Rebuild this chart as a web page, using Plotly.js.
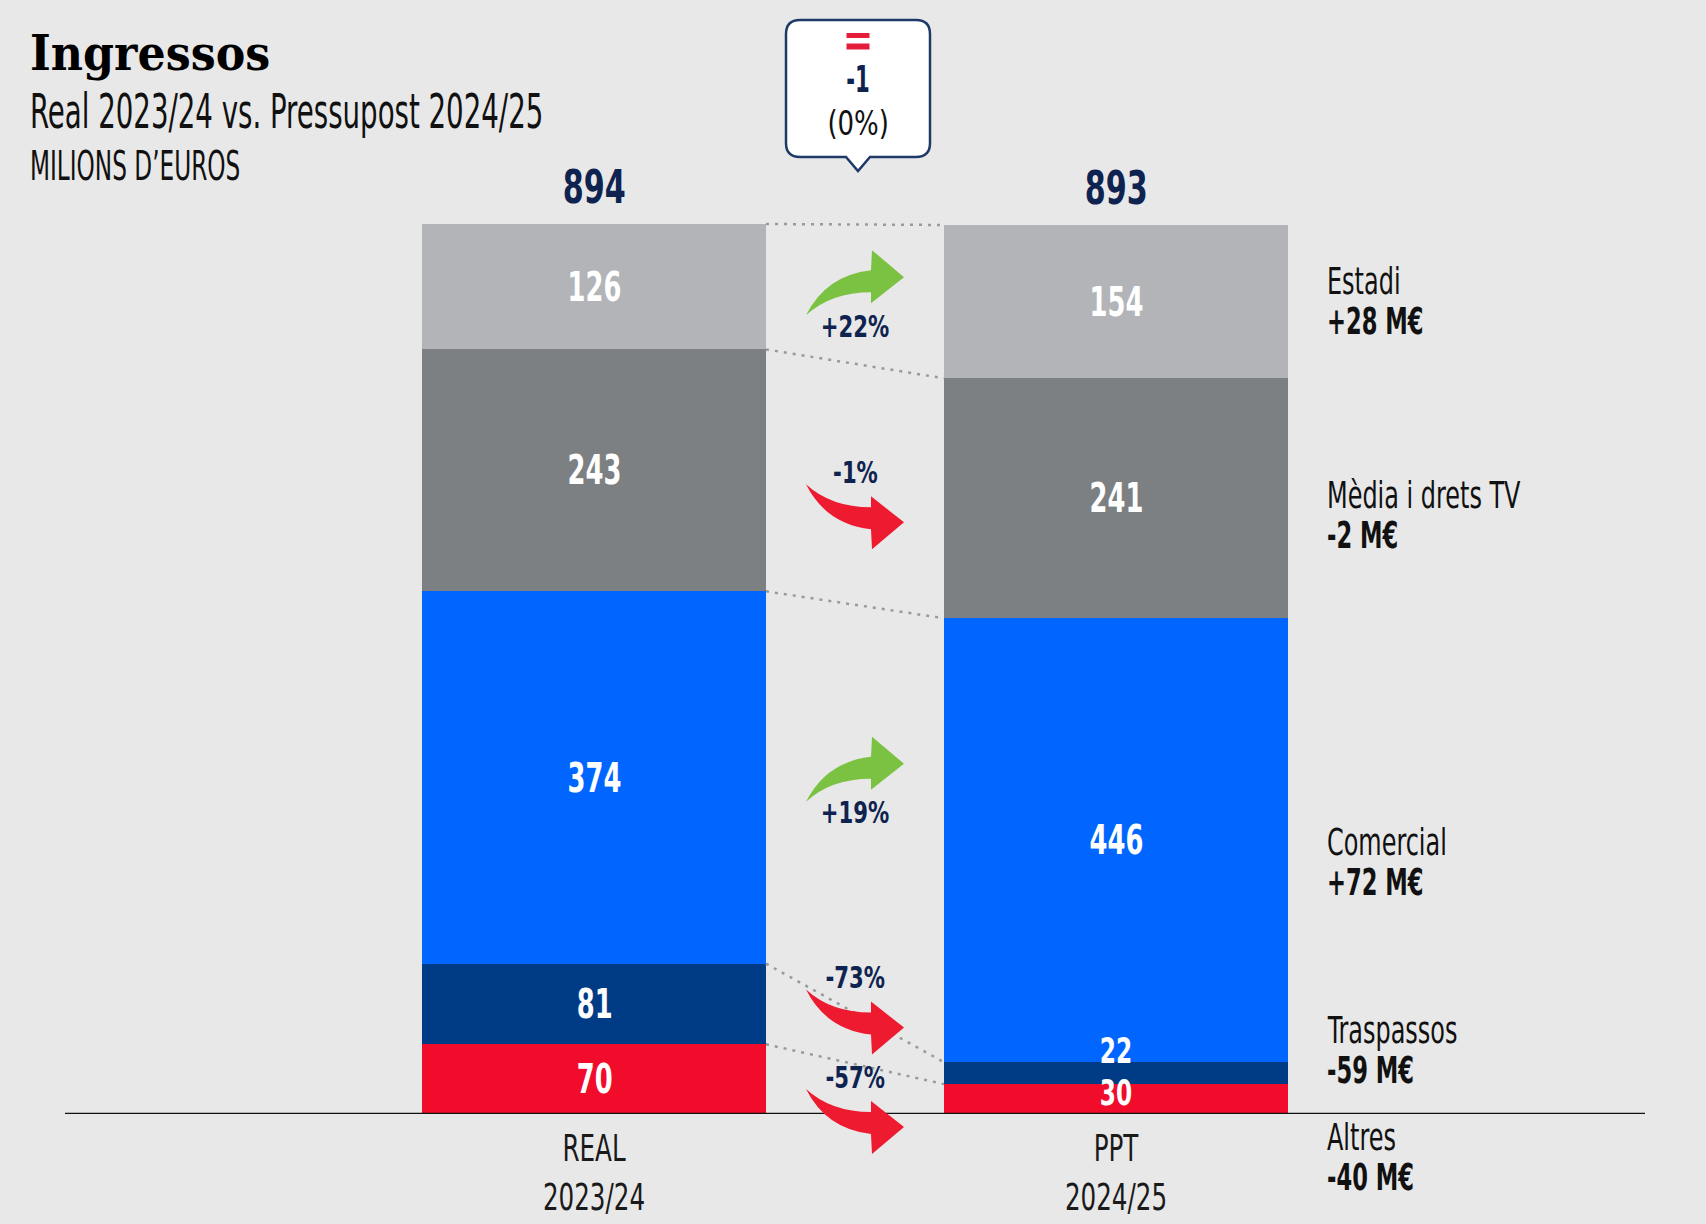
<!DOCTYPE html>
<html><head><meta charset="utf-8">
<script src="https://cdn.plot.ly/plotly-3.0.1.min.js"></script>
<style>html,body{margin:0;padding:0;background:#e8e8e8;} #chart{width:1706px;height:1224px;}</style>
</head><body><div id="chart"></div>
<script>
// ---- data ----
const periods = ['REAL<br>2023/24', 'PPT<br>2024/25'];
const categories = ['Altres', 'Traspassos', 'Comercial', 'Mèdia i drets TV', 'Estadi'];
const altres = [70, 30];
const traspassos = [81, 22];
const comercial = [374, 446];
const media = [243, 241];
const estadi = [126, 154];
const titleText = 'Ingressos';
const subtitleText = 'Real 2023/24 vs. Pressupost 2024/25';
const unitText = 'MILIONS D’EUROS';

// ---- styles / layout config ----
const series = [altres, traspassos, comercial, media, estadi];
const colors = ['#f00c2a', '#003c85', '#0066ff', '#7d8083', '#b2b4b7'];
const NARROW = '"Liberation Sans Narrow", "Arial Narrow", "DejaVu Sans Condensed", sans-serif';
const NAVY = '#0e2350';
const W = 1706, H = 1224, mB = 110, plotH = H - mB, yMax = 1119, ppu = plotH / yMax;
const leftCenterPx = 594, spacingPx = 522, barWidth = 344 / 522;
const xr = [-leftCenterPx / spacingPx, 1 + (W - leftCenterPx - spacingPx) / spacingPx];
const segLabelShift = {'1-1': 22, '1-0': 6};      // px up, for crowded small segments
const smallLabel = {'1-1': true, '1-0': true};      // smaller font for crowded segments
// per category, order: Altres, Traspassos, Comercial, Mèdia, Estadi
const arrowNudge = [10, -39, -18, 10, 10];          // px down for arrow groups
const labelNudge = [58, -23, 22, 17, 0];            // px down for right-side labels
const pyp = px => 1 - px / plotH;                   // paper y from pixel (top margin 0)
const calloutDx = 3;                                // px offset of callout box from gap centre

// horizontal squeeze per annotation (condensed look)
const annotations = [];
const shapes = [];
const annScale = [];
function addAnn(a, scale) { annotations.push(a); annScale.push(scale); }

// ---- derived ----
const totals = periods.map((_, j) => series.reduce((s, a) => s + a[j], 0));
const cumTop = series.map((a, i) => periods.map((_, j) => series.slice(0, i + 1).reduce((s, b) => s + b[j], 0)));

const traces = series.map((vals, i) => ({
  type: 'bar', x: periods, y: vals, name: categories[i], width: barWidth,
  marker: {color: colors[i], line: {width: 0}}, textposition: 'none', hoverinfo: 'skip'
}));

// segment labels
series.forEach((vals, i) => {
  vals.forEach((v, j) => {
    const key = j + '-' + i;
    addAnn({x: j, y: cumTop[i][j] - v / 2, xref: 'x', yref: 'y', yanchor: 'middle', text: String(v), showarrow: false,
      yshift: segLabelShift[key] || 0,
      font: {family: NARROW, size: smallLabel[key] ? 35 : 41, color: '#ffffff', weight: 'bold'}}, smallLabel[key] ? 0.74 : 0.70);
  });
});
// totals
totals.forEach((t, j) => {
  addAnn({x: j, y: t, xref: 'x', yref: 'y', yanchor: 'middle', text: String(t), showarrow: false, yshift: 37,
    font: {family: NARROW, size: 46, color: NAVY, weight: 'bold'}}, 0.73);
});
// dotted connectors
cumTop.forEach(row => {
  shapes.push({type: 'line', xref: 'x', yref: 'y', x0: barWidth / 2, x1: 1 - barWidth / 2, y0: row[0], y1: row[1],
    line: {color: '#9a9a9a', width: 2.5, dash: '3px,6px'}, layer: 'above'});
});
// baseline
shapes.push({type: 'line', xref: 'paper', yref: 'y', x0: 65 / W, x1: 1645 / W, y0: 0, y1: 0, line: {color: '#111111', width: 2.5}});

// arrows + percentages + right labels
function arrowPath(up) {
  const s = up ? -1 : 1;
  return `M -49,${s * 32.5} Q -29,${s * -7.5} 16,${s * -12.5} L 17,${s * -32.5} L 49,${s * -5.5} L 16,${s * 20.5} L 16,${s * 9.5} Q -24,${s * 9.5} -49,${s * 32.5} Z`;
}
series.forEach((vals, i) => {
  const d = vals[1] - vals[0];
  const pct = Math.round(d / vals[0] * 100);
  const up = d > 0;
  const mid = ((cumTop[i][0] - vals[0] / 2) + (cumTop[i][1] - vals[1] / 2)) / 2;
  const centerShift = -arrowNudge[i]; // px up
  const arrowOff = up ? 21.5 : -22.5;  // px up relative to group centre
  const textOff = up ? -21.5 : 22.5;
  // paper-referenced so the arrow may extend below the baseline without clipping
  shapes.push({type: 'path', xref: 'x', yref: 'paper', xsizemode: 'pixel', ysizemode: 'pixel', xanchor: 0.5,
    yanchor: (mid + (centerShift + arrowOff) / ppu) / yMax, path: arrowPath(up),
    fillcolor: up ? '#7cc242' : '#ee1a30', line: {width: 0}, layer: 'above'});
  addAnn({x: 0.5, y: mid, xref: 'x', yref: 'y', yanchor: 'middle', yshift: centerShift + textOff, showarrow: false,
    text: (up ? '+' : '') + (pct === 0 ? 0 : pct) + '%', font: {family: NARROW, size: 31, color: NAVY, weight: 'bold'}}, 0.76);
  const rmid = cumTop[i][1] - vals[1] / 2;
  addAnn({x: 1325 / W, xref: 'paper', xanchor: 'left', align: 'left', y: rmid, yref: 'y', yanchor: 'middle', yshift: -labelNudge[i] + 20, showarrow: false,
    text: categories[i], font: {family: NARROW, size: 37, color: '#111111'}}, 0.72);
  addAnn({x: 1325 / W, xref: 'paper', xanchor: 'left', align: 'left', y: rmid, yref: 'y', yanchor: 'middle', yshift: -labelNudge[i] - 20, showarrow: false,
    text: (up ? '+' : '') + d + ' M€', font: {family: NARROW, size: 37, color: '#111111', weight: 'bold'}}, 0.68);
});

// callout box
const totDiff = totals[1] - totals[0];
const totPct = Math.round(totDiff / totals[0] * 100);
const cx = v => v + calloutDx;
shapes.push({type: 'path', xref: 'x', yref: 'paper', xsizemode: 'pixel', ysizemode: 'pixel', xanchor: 0.5, yanchor: 1,
  path: `M ${cx(-58)},-20 L ${cx(58)},-20 Q ${cx(72)},-20 ${cx(72)},-34 L ${cx(72)},-143 Q ${cx(72)},-157 ${cx(58)},-157 L ${cx(12)},-157 L ${cx(0)},-171 L ${cx(-12)},-157 L ${cx(-58)},-157 Q ${cx(-72)},-157 ${cx(-72)},-143 L ${cx(-72)},-34 Q ${cx(-72)},-20 ${cx(-58)},-20 Z`,
  fillcolor: '#ffffff', line: {color: '#1f3a68', width: 2.5}, layer: 'above'});
[[-33, -38], [-43.5, -49.5]].forEach(([a, b]) => {
  shapes.push({type: 'rect', xref: 'x', yref: 'paper', xsizemode: 'pixel', ysizemode: 'pixel', xanchor: 0.5, yanchor: 1,
    x0: cx(-11.5), x1: cx(11.5), y0: a, y1: b, fillcolor: '#e41d3a', line: {width: 0}, layer: 'above'});
});
addAnn({x: 0.5, xref: 'x', xshift: calloutDx, y: pyp(79), yref: 'paper', yanchor: 'middle', showarrow: false, text: String(totDiff),
  font: {family: NARROW, size: 38, color: NAVY, weight: 'bold'}}, 0.62);
addAnn({x: 0.5, xref: 'x', xshift: calloutDx, y: pyp(123), yref: 'paper', yanchor: 'middle', showarrow: false, text: '(' + (totPct === 0 ? 0 : totPct) + '%)',
  font: {family: NARROW, size: 34, color: '#111111'}}, 0.85);

// titles
addAnn({x: 28 / W, xref: 'paper', xanchor: 'left', align: 'left', y: pyp(53), yref: 'paper', yanchor: 'middle', showarrow: false, text: titleText,
  font: {family: '"DejaVu Serif", serif', size: 48, color: '#000000', weight: 'bold'}}, 0.925);
addAnn({x: 28 / W, xref: 'paper', xanchor: 'left', align: 'left', y: pyp(111), yref: 'paper', yanchor: 'middle', showarrow: false, text: subtitleText,
  font: {family: NARROW, size: 48, color: '#111111'}}, 0.64);
addAnn({x: 28 / W, xref: 'paper', xanchor: 'left', align: 'left', y: pyp(166), yref: 'paper', yanchor: 'middle', showarrow: false, text: unitText,
  font: {family: NARROW, size: 40, color: '#111111'}}, 0.645);

const layout = {
  width: W, height: H, margin: {l: 0, r: 0, t: 0, b: mB, pad: 0},
  paper_bgcolor: '#e8e8e8', plot_bgcolor: '#e8e8e8',
  barmode: 'stack', showlegend: false,
  xaxis: {type: 'category', range: xr, showgrid: false, zeroline: false, showline: false, ticks: '',
    ticklabelstandoff: 8, tickfont: {family: NARROW, size: 38, color: '#1a1a1a'}, fixedrange: true},
  yaxis: {range: [0, yMax], visible: false, fixedrange: true},
  annotations: annotations, shapes: shapes
};

function squeeze(el, s) {
  if (!el || !(s < 1)) return;
  const bb = el.getBBox();
  const anchor = el.getAttribute('text-anchor');
  const ox = anchor === 'start' ? bb.x : (anchor === 'end' ? bb.x + bb.width : bb.x + bb.width / 2);
  const prev = el.getAttribute('transform') || '';
  el.setAttribute('transform', `${prev} translate(${ox},0) scale(${s},1) translate(${-ox},0)`);
}
const tickScale = 0.72;

Plotly.newPlot('chart', traces, layout, {displayModeBar: false, staticPlot: true}).then(gd => {
  gd.querySelectorAll('g.annotation').forEach(g => {
    const idx = +g.getAttribute('data-index');
    squeeze(g.querySelector('text.annotation-text'), annScale[idx]);
  });
  gd.querySelectorAll('g.xtick text').forEach(t => squeeze(t, tickScale));
});
</script></body></html>
